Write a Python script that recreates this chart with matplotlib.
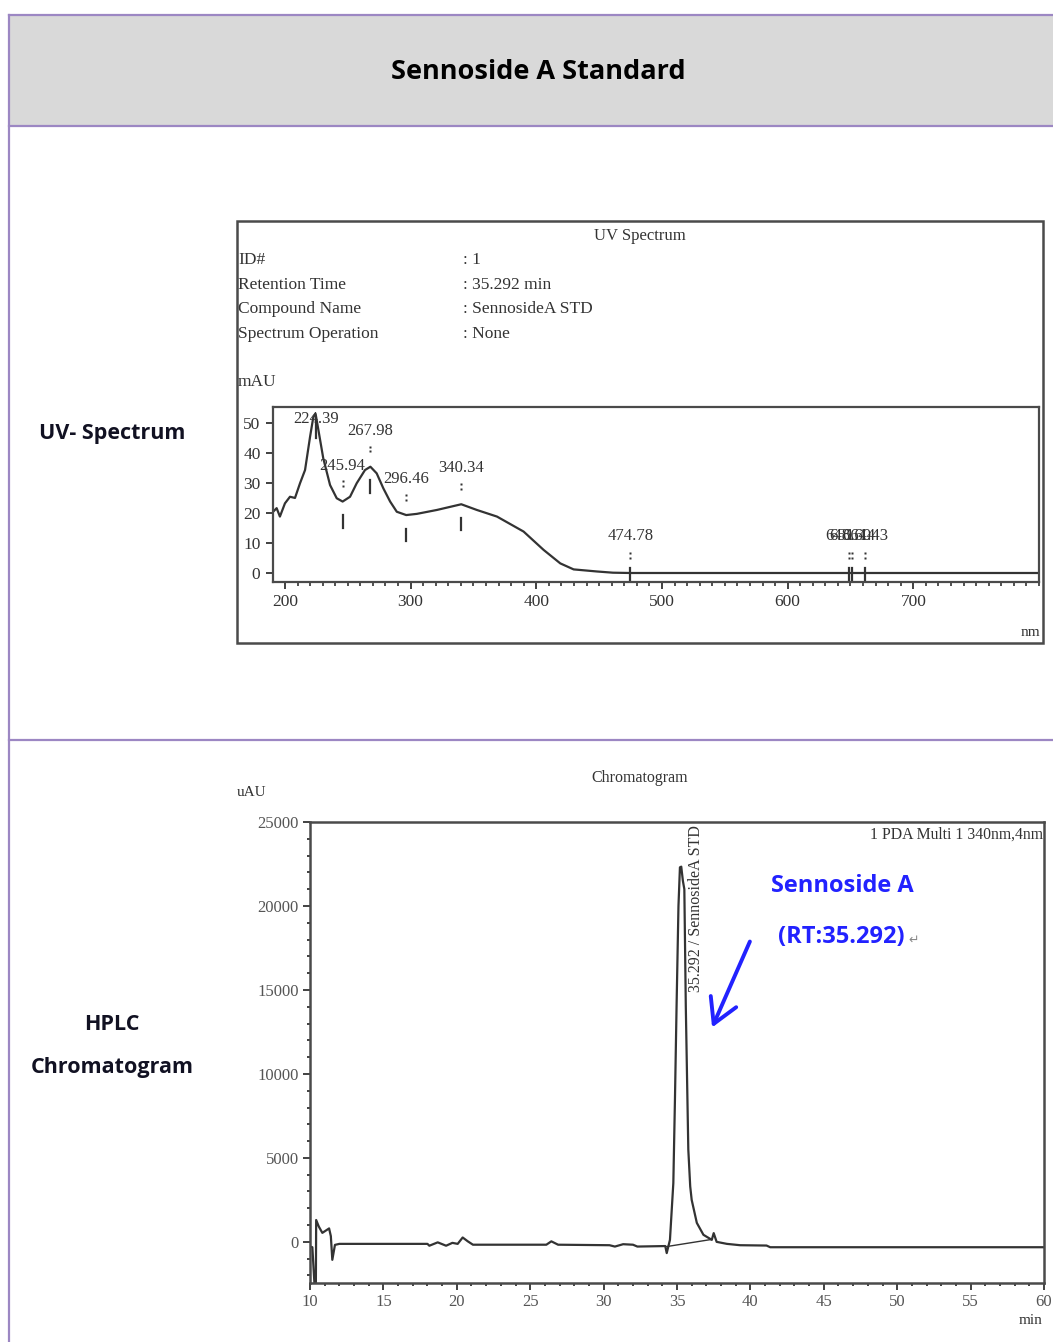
import numpy as np
import matplotlib
matplotlib.use("Agg")
import matplotlib.pyplot as plt
from matplotlib.patches import Rectangle, FancyArrowPatch
from matplotlib.lines import Line2D
from matplotlib.ticker import MultipleLocator

W, H = 1053, 1342

# UV spectrum (nm, mAU)
uv_nm = [189.4, 193.4, 196.0, 200.0, 204.0, 208.0, 212.0, 216.0, 220.0, 222.6, 224.4,
         226.6, 230.5, 235.9, 241.2, 245.9, 251.8, 257.1, 263.7, 268.0, 273.0, 278.3,
         283.7, 289.0, 296.5, 305.0, 320.9, 340.3, 352.7, 368.7, 389.9, 405.8, 419.1,
         429.7, 448.4, 461.0, 474.8, 550.0, 648.6, 651.4, 661.4, 700.0, 800.0]
uv_mau = [19.9, 21.6, 18.8, 23.2, 25.4, 25.0, 29.9, 34.3, 45.4, 52.0, 53.0,
          47.7, 38.2, 29.3, 24.9, 23.8, 25.4, 29.9, 34.3, 35.4, 33.2, 28.2,
          23.8, 20.4, 19.3, 19.7, 21.0, 22.9, 21.0, 18.8, 13.8, 7.7, 3.2,
          1.2, 0.5, 0.1, 0.0, 0.0, 0.0, 0.0, 0.0, 0.0, 0.0]
uv_peak_nm = [224.39, 245.94, 267.98, 296.46, 340.34, 474.78, 648.60, 651.44, 661.43]
uv_peak_labels = ["224.39", "245.94", "267.98", "296.46", "340.34", "474.78",
                  "648.60", "651.44", "661.43"]

# chromatogram (min, uAU)
hplc_min = [10.0, 10.16, 10.3, 10.4, 10.42, 10.6, 10.84, 11.18, 11.3, 11.42, 11.52,
            11.7, 12.0, 18.0, 18.13, 18.7, 19.27, 19.7, 20.06, 20.4, 20.75, 21.1,
            26.1, 26.44, 26.9, 30.4, 30.77, 31.33, 32.0, 32.3, 34.2, 34.3, 34.52,
            34.75, 34.86, 34.97, 35.1, 35.2, 35.29, 35.4, 35.5, 35.6, 35.68, 35.77,
            35.9, 36.0, 36.35, 36.8, 37.37, 37.5, 37.7, 38.4, 39.3, 41.1, 41.35, 60.0]
hplc_uau = [-280, -320, -2440, -2440, 1300, 910, 535, 730, 800, 340, -1070,
            -180, -120, -120, -230, -30, -230, -60, -120, 260, 30, -170,
            -170, 30, -170, -200, -280, -140, -170, -280, -250, -670, 120,
            3500, 8450, 14000, 20000, 22300, 22340, 21500, 21000, 14000, 10000, 5500,
            3300, 2500, 1130, 420, 120, 520, 0, -120, -200, -220, -320, -320]
hplc_base_min = [34.3, 37.4]
hplc_base_uau = [-280, 150]

fig = plt.figure(figsize=(W / 100, H / 100), dpi=100)


def fx(x):
    return x / W


def fy(y):
    return 1 - y / H


# table frame
PURPLE = "#9c87c3"
fig.patches.append(Rectangle((fx(9), fy(126)), 1 - fx(9), fy(15) - fy(126),
                             transform=fig.transFigure, facecolor="#d9d9d9",
                             edgecolor="none"))
for yy in (15, 126, 740):
    fig.add_artist(Line2D([fx(9), 1], [fy(yy), fy(yy)], color=PURPLE, lw=1.6))
fig.add_artist(Line2D([fx(9), fx(9)], [fy(15), 0], color=PURPLE, lw=1.6))

SANS = ["Open Sans", "DejaVu Sans"]
fig.text(fx(538), fy(72), "Sennoside A Standard", ha="center", va="center",
         fontsize=19.5, family=SANS, weight="bold", color="black")
fig.text(fx(112), fy(433), "UV- Spectrum", ha="center", va="center",
         fontsize=15.5, family=SANS, weight="bold", color="#111122")
fig.text(fx(112), fy(1024), "HPLC", ha="center", va="center",
         fontsize=15.5, family=SANS, weight="bold", color="#111122")
fig.text(fx(112), fy(1068), "Chromatogram", ha="center", va="center",
         fontsize=15.5, family=SANS, weight="bold", color="#111122")

SERIF = "Liberation Serif"
INK = "#333333"

# ---- UV spectrum panel ----
fig.patches.append(Rectangle((fx(237), fy(643)), fx(1043) - fx(237), fy(221) - fy(643),
                             transform=fig.transFigure, facecolor="none",
                             edgecolor="#4a4a4a", lw=1.8))
fig.text(fx(640), fy(236), "UV Spectrum", ha="center", va="center", fontsize=12,
         family=SERIF, color=INK)
info_keys = ["ID#", "Retention Time", "Compound Name", "Spectrum Operation"]
info_vals = [": 1", ": 35.292 min", ": SennosideA STD", ": None"]
for i, (k, v) in enumerate(zip(info_keys, info_vals)):
    yy = 260 + i * 24.7
    fig.text(fx(238), fy(yy), k, ha="left", va="center", fontsize=12.5, family=SERIF, color=INK)
    fig.text(fx(463), fy(yy), v, ha="left", va="center", fontsize=12.5, family=SERIF, color=INK)
fig.text(fx(238), fy(382), "mAU", ha="left", va="center", fontsize=12.5, family=SERIF, color=INK)
fig.text(fx(1040), fy(632), "nm", ha="right", va="center", fontsize=11, family=SERIF, color=INK)

ax1 = fig.add_axes([fx(273), fy(582), fx(1039) - fx(273), fy(407) - fy(582)])
ax1.plot(uv_nm, uv_mau, color=INK, lw=1.6)
ax1.set_xlim(190.5, 800)
ax1.set_ylim(-3, 55.3)
ax1.xaxis.set_minor_locator(MultipleLocator(10))
ax1.yaxis.set_major_locator(MultipleLocator(10))
ax1.set_xticks(range(200, 701, 100))
ax1.tick_params(axis="both", which="major", direction="out", length=5, width=1.3,
                color=INK, labelsize=12.5, labelcolor=INK, pad=4)
ax1.tick_params(axis="x", which="minor", direction="out", length=3, width=1.2, color=INK)
for lab in ax1.get_xticklabels() + ax1.get_yticklabels():
    lab.set_family(SERIF)
for sp in ax1.spines.values():
    sp.set_color("#4a4a4a")
    sp.set_linewidth(1.6)

# peak / valley marks: label above, dotted pair, short bar under the curve
for nm, lab in zip(uv_peak_nm, uv_peak_labels):
    v = float(np.interp(nm, uv_nm, uv_mau))
    if v < 2:
        label_y, dot_y, bar = 12.3, 6.7, (1.7, -2.3)
    else:
        label_y, dot_y, bar = min(v + 12, 51.3), v + 6.7, (v - 4.5, v - 8.7)
    ax1.text(nm, label_y, lab, ha="center", va="center", fontsize=12, family=SERIF,
             color=INK, clip_on=False)
    if nm > 230:
        ax1.plot([nm, nm], [dot_y, dot_y - 1.6], ls="none", marker="s", ms=1.8,
                 color=INK, mec="none")
    else:
        bar = (v - 3, v - 8)
    ax1.plot([nm, nm], list(bar), color=INK, lw=1.6)

# ---- chromatogram panel ----
fig.text(fx(640), fy(778), "Chromatogram", ha="center", va="center", fontsize=11.5,
         family=SERIF, color=INK)
fig.text(fx(237), fy(793), "uAU", ha="left", va="center", fontsize=11,
         family=SERIF, color=INK)
fig.text(fx(1043), fy(1321), "min", ha="right", va="center", fontsize=11,
         family=SERIF, color=INK)

ax2 = fig.add_axes([fx(310), fy(1283), fx(1044) - fx(310), fy(822) - fy(1283)])
ax2.plot(hplc_min, hplc_uau, color=INK, lw=1.6)
ax2.plot(hplc_base_min, hplc_base_uau, color=INK, lw=1.0)
ax2.set_xlim(10, 60)
ax2.set_ylim(-2450, 25000)
ax2.xaxis.set_major_locator(MultipleLocator(5))
ax2.xaxis.set_minor_locator(MultipleLocator(1))
ax2.yaxis.set_minor_locator(MultipleLocator(1000))
ax2.set_yticks(range(0, 25001, 5000))
ax2.tick_params(axis="both", which="major", direction="out", length=5, width=1.3,
                color=INK, labelsize=12, labelcolor="#555555", pad=3)
ax2.tick_params(axis="both", which="minor", direction="out", length=2.5, width=1.3,
                color=INK)
for lab in ax2.get_xticklabels() + ax2.get_yticklabels():
    lab.set_family(SERIF)
for sp in ax2.spines.values():
    sp.set_color("#4a4a4a")
    sp.set_linewidth(1.8)

ax2.text(35.292 + 1.0, 24800, "35.292 / SennosideA STD", rotation=90, ha="center",
         va="top", fontsize=11.5, family=SERIF, color=INK)
ax2.text(0.999, 0.99, "1 PDA Multi 1 340nm,4nm", transform=ax2.transAxes, ha="right",
         va="top", fontsize=11.3, family=SERIF, color=INK)

BLUE = "#2222ff"
fig.text(fx(842), fy(886), "Sennoside A", ha="center", va="center", fontsize=17,
         family=SANS, weight="bold", color=BLUE)
fig.text(fx(778), fy(937), "(RT:35.292)", ha="left", va="center", fontsize=17,
         family=SANS, weight="bold", color=BLUE)
fig.text(fx(908), fy(940), "\u21b5", ha="left", va="center", fontsize=9,
         family=["DejaVu Sans"], color="#888888")
fig.add_artist(FancyArrowPatch(
    (fx(751), fy(939)), (fx(711), fy(1030)), transform=fig.transFigure,
    arrowstyle="->,head_length=7,head_width=4", color=BLUE, lw=2.8, mutation_scale=2.5))

fig.savefig("out.png", dpi=100, facecolor="white")
